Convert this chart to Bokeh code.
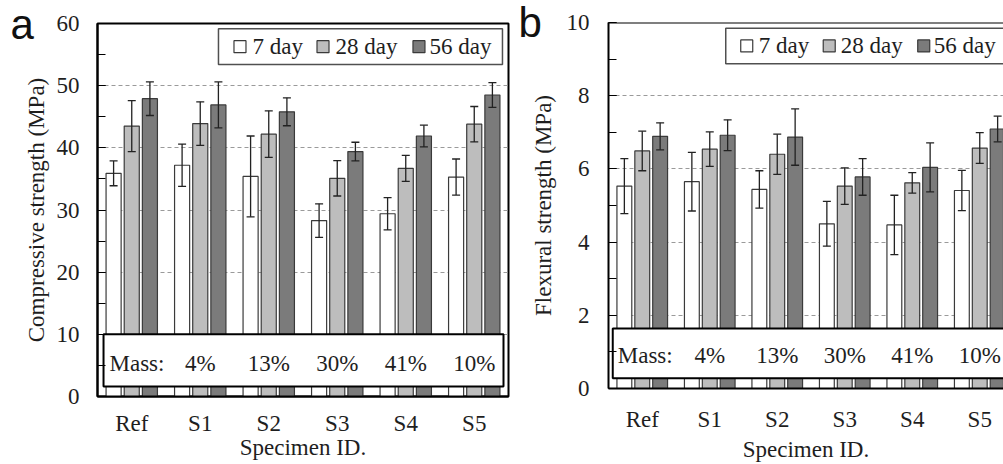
from bokeh.plotting import figure
from bokeh.layouts import row, column
from bokeh.models import (ColumnDataSource, Whisker, TeeHead, Title, FixedTicker, Label,
                          SingleIntervalTicker, Range1d, Span)
from bokeh.core.properties import value
from bokeh.embed import file_html
from bokeh.resources import INLINE

specimens = ["Ref", "S1", "S2", "S3", "S4", "S5"]
mass_labels = ["4%", "13%", "30%", "41%", "10%"]
ages = ["7 day", "28 day", "56 day"]

comp_7 = [35.9, 37.2, 35.4, 28.3, 29.4, 35.3]
comp_7_err = [2.0, 3.4, 6.5, 2.7, 2.6, 2.9]
comp_28 = [43.5, 43.9, 42.2, 35.1, 36.7, 43.8]
comp_28_err = [4.1, 3.5, 3.75, 2.85, 2.1, 2.85]
comp_56 = [47.9, 46.9, 45.8, 39.4, 41.9, 48.5]
comp_56_err = [2.7, 3.7, 2.25, 1.5, 1.75, 2.0]

flex_7 = [5.53, 5.65, 5.44, 4.50, 4.47, 5.41]
flex_7_err = [0.75, 0.80, 0.51, 0.61, 0.81, 0.55]
flex_28 = [6.49, 6.54, 6.40, 5.53, 5.62, 6.57]
flex_28_err = [0.54, 0.47, 0.55, 0.50, 0.28, 0.42]
flex_56 = [6.89, 6.92, 6.87, 5.78, 6.04, 7.09]
flex_56_err = [0.37, 0.42, 0.77, 0.50, 0.67, 0.35]

BAR_COLORS = ["#ffffff", "#bdbdbd", "#7b7b7b"]
SERIF = "'Liberation Serif', 'Times New Roman', 'DejaVu Serif', serif"
SANS = "'Liberation Sans', Arial, sans-serif"
FS = "23px"
TXT = "#1e1e1e"


def style_text(obj, prefix):
    setattr(obj, prefix + "_text_font", SERIF)
    setattr(obj, prefix + "_text_font_size", FS)
    setattr(obj, prefix + "_text_color", TXT)
    setattr(obj, prefix + "_text_line_height", 1.0)


def make_panel(letter, ylabel, series, errs, ymax, yint, xend, W, H, bl, br, bt, bb,
               tick_stand_y, lab_stand_y, tick_stand_x, lab_stand_x, lay, outline):
    p = figure(width=W, height=H, x_range=Range1d(-0.5, xend), y_range=Range1d(0, ymax),
               output_backend="svg", toolbar_location=None,
               min_border_left=bl, min_border_right=br, min_border_top=bt, min_border_bottom=bb)
    p.background_fill_color = "white"
    p.border_fill_color = "white"
    if outline:
        p.outline_line_color = "black"
        p.outline_line_width = 2
    else:
        p.outline_line_color = None
        p.add_layout(Span(location=ymax, dimension="width", line_color="black", line_width=2))

    offsets = [-0.265, 0.0, 0.265]
    n = len(specimens)
    for k in range(3):
        vals = series[k]
        er = errs[k]
        src = ColumnDataSource(dict(
            x=[i + offsets[k] for i in range(n)], top=vals,
            upper=[v + e for v, e in zip(vals, er)],
            lower=[v - e for v, e in zip(vals, er)]))
        p.vbar(x="x", top="top", bottom=0, width=0.22, source=src,
               fill_color=BAR_COLORS[k], line_color="#3a3a3a", line_width=1.2)
        w = Whisker(base="x", upper="upper", lower="lower", source=src,
                    line_color="#222222", line_width=1.3, level="overlay",
                    upper_head=TeeHead(size=8, line_color="#222222", line_width=1.3),
                    lower_head=TeeHead(size=8, line_color="#222222", line_width=1.3))
        p.add_layout(w)

    # Mass box
    p.quad(left=[lay["m_l"]], right=[lay["m_r"]], bottom=[lay["m_b"]], top=[lay["m_t"]],
           fill_color="white", line_color="black", line_width=2)
    gl_kw = dict(text_baseline="middle", text_font=value("Liberation Serif"),
                 text_font_size=value(FS), text_color=TXT, text_line_height=1.0)
    p.text(x=[lay["m_tx"]], y=[lay["m_y"]], text=["Mass:"], text_align="left", **gl_kw)
    p.text(x=list(range(1, n)), y=[lay["m_y"]] * (n - 1), text=mass_labels,
           text_align="center", **gl_kw)

    # Legend
    p.quad(left=[lay["l_l"]], right=[lay["l_r"]], bottom=[lay["l_b"]], top=[lay["l_t"]],
           fill_color="white", line_color="#505050", line_width=1.5)
    p.scatter(x=lay["sq_x"], y=[lay["l_y"]] * 3, marker="square", size=12,
              fill_color=BAR_COLORS, line_color="#3a3a3a", line_width=1.2)
    for tx, age in zip(lay["tx_x"], ages):
        p.add_layout(Label(x=tx, y=lay["l_y"], text=age, text_align="left",
                           text_baseline="middle", text_font=SERIF, text_font_size=FS,
                           text_color=TXT, text_line_height=1.0))

    # panel letter
    p.add_layout(Title(text=letter, align="left", vertical_align="bottom",
                       offset=lay["let_off"], standoff=lay["let_stand"],
                       text_font=SANS, text_font_size="42px", text_font_style="normal",
                       text_color="#111111", text_line_height=1.0), "above")

    # axes
    p.xgrid.visible = False
    p.ygrid.grid_line_color = "#9a9a9a"
    p.ygrid.grid_line_dash = "4 3"
    p.ygrid.grid_line_width = 1

    ya = p.yaxis[0]
    ya.ticker = SingleIntervalTicker(interval=yint, num_minor_ticks=2)
    ya.major_tick_in = 8
    ya.major_tick_out = 0
    ya.minor_tick_in = 8
    ya.minor_tick_out = 0
    ya.major_tick_line_color = "black"
    ya.minor_tick_line_color = "black"
    ya.axis_line_color = "black"
    ya.axis_line_width = 2
    ya.axis_label = ylabel
    ya.axis_label_text_font_style = "normal"
    style_text(ya, "axis_label")
    style_text(ya, "major_label")
    ya.axis_label_standoff = lab_stand_y
    ya.major_label_standoff = tick_stand_y

    xa = p.xaxis[0]
    xa.ticker = FixedTicker(ticks=list(range(n)))
    xa.major_label_overrides = {i: s for i, s in enumerate(specimens)}
    xa.major_tick_in = 0
    xa.major_tick_out = 0
    xa.minor_tick_in = 0
    xa.minor_tick_out = 0
    xa.axis_line_color = "black"
    xa.axis_line_width = 2
    xa.axis_label = "Specimen ID."
    xa.axis_label_text_font_style = "normal"
    style_text(xa, "axis_label")
    style_text(xa, "major_label")
    xa.axis_label_standoff = lab_stand_x
    xa.major_label_standoff = tick_stand_x
    return p


lay_a = dict(m_l=-0.412, m_r=5.427, m_b=1.6, m_t=10.0, m_tx=-0.325, m_y=5.3,
             l_l=1.266, l_r=5.412, l_b=53.4, l_t=59.16, l_y=56.27,
             sq_x=[1.580, 2.792, 4.193], tx_x=[1.763, 2.974, 4.347],
             let_off=-87, let_stand=-48)
lay_b = dict(m_l=-0.437, m_r=5.43, m_b=0.28, m_t=1.64, m_tx=-0.363, m_y=0.9,
             l_l=1.237, l_r=5.41, l_b=8.87, l_t=9.84, l_y=9.36,
             sq_x=[1.548, 2.770, 4.170], tx_x=[1.726, 2.941, 4.319],
             let_off=-90, let_stand=-46)

pa = make_panel("a", "Compressive strength (MPa)",
                [comp_7, comp_28, comp_56], [comp_7_err, comp_28_err, comp_56_err],
                60, 10, 5.5, 515, 464, 97, 7, 23, 68,
                18, 5, 14, -4, lay_a, True)
pb = make_panel("b", "Flexural strength (MPa)",
                [flex_7, flex_28, flex_56], [flex_7_err, flex_28_err, flex_56_err],
                10, 2, -0.5 + 395 / 67.5, 488, 464, 93, 0, 22, 75,
                19, 8, 18, 2, lay_b, False)

layout = row(column(pa), column(pb))
open("out.html", "w").write(file_html(layout, INLINE))
